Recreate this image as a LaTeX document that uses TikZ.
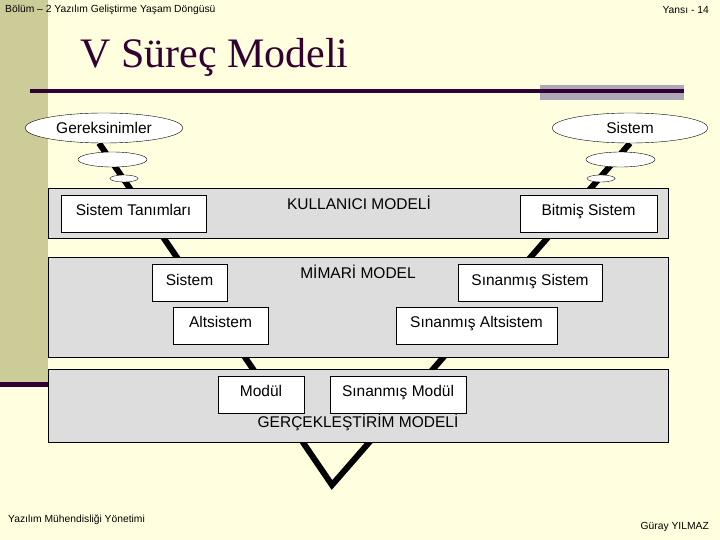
\documentclass[tikz,border=0pt]{standalone}
\usepackage{fontspec}
\setmainfont{Liberation Serif}
\newfontfamily\arialfont{Liberation Sans}
\usepackage{xcolor}
\usepackage{tikz}
\usetikzlibrary{positioning,shapes.geometric,backgrounds}
\definecolor{SlideBg}{RGB}{255,255,224}
\definecolor{SlideStrip}{RGB}{204,204,153}
\definecolor{SlidePurple}{RGB}{51,0,51}
\definecolor{SlideGray}{RGB}{172,168,182}
\definecolor{LayerGray}{RGB}{221,221,221}
\tikzset{
    stagebox/.style={rectangle, draw=black, fill=white, minimum height=37pt, inner sep=0pt, text height=11pt, text depth=7pt, font=\arialfont\fontsize{15.5}{18}\selectfont},
    layerbox/.style={rectangle, draw=black, fill=LayerGray, minimum width=620pt, inner sep=0pt},
    edge of v/.style={draw=black, line width=6pt}
}

\begin{document}
\begin{tikzpicture}[
        x=1pt, y=-1pt,
        % --- CHU ---
        small_text/.style={font=\arialfont\fontsize{10.3}{12}\selectfont, inner sep=0pt},
        layer_text/.style={font=\arialfont\fontsize{15.5}{18}\selectfont, inner sep=0pt},
        % --- BALONCUK ---
        bubble/.style={
            ellipse,
            draw=black,
            fill=white,
            inner sep=0pt,
            font=\arialfont\fontsize{15.5}{18}\selectfont
        }
    ]

        % --- ZEMIN ---
        \begin{pgfonlayer}{background}
            \fill[SlideBg] (0,0) rectangle (720,540);
            \fill[SlideStrip] (0,0) rectangle (48,382);
            \fill[SlidePurple] (0,382) rectangle (48,387);
            \fill[SlideGray] (540,85) rectangle (684,100);
            \fill[SlidePurple] (30,89) rectangle (684,93);
        \end{pgfonlayer}
        \useasboundingbox (0,0) rectangle (720,540);

        % --- BASLIK ---
        \node[small_text, anchor=west] (chapter) at (5,10) {Bölüm – 2 Yazılım Geliştirme Yaşam Döngüsü};
        \node[small_text, anchor=east] (slideno) at (709,10) {Yansı - 14};
        \node[anchor=base west, inner sep=0pt, text=SlidePurple, font=\fontsize{42}{50}\selectfont] (title) at (80,68) {V Süreç Modeli};

        % --- ELIPSLER ---
        \node[bubble, minimum width=158pt, minimum height=30pt] (gerek) at (104,128) {Gereksinimler};
        \node[bubble, minimum width=156pt, minimum height=30pt] (sist) at (630,128) {Sistem};
        \node[bubble, minimum width=69pt, minimum height=15pt] (gl1) at (112.5,159.5) {};
        \node[bubble, minimum width=28pt, minimum height=7pt] (gl2) at (124,178.5) {};
        \node[bubble, minimum width=69pt, minimum height=15pt] (sr1) at (620.5,159.5) {};
        \node[bubble, minimum width=28pt, minimum height=7pt] (sr2) at (601,178.5) {};

        % --- V CIZGISI ---
        \coordinate (vtip) at (332,485);
        \begin{pgfonlayer}{background}
            \draw[edge of v] (gerek.252) -- (vtip) -- (sist.south);
        \end{pgfonlayer}

        % --- KATMANLAR ---
        \node[layerbox, minimum height=50pt] (user) at (358,213) {};
        \node[layerbox, minimum height=100pt] (arch) at (358,307) {};
        \node[layerbox, minimum height=73pt] (impl) at (358,405.5) {};
        \node[layer_text] (userlbl) at (359,203) {KULLANICI MODELİ};
        \node[layer_text] (archlbl) at (358,272) {MİMARİ MODEL};
        \node[layer_text] (impllbl) at (358,422) {GERÇEKLEŞTİRİM MODELİ};

        % --- KUTULAR ---
        \node[stagebox, minimum width=145pt] (systdef) at (133.5,213.5) {Sistem Tanımları};
        \node[stagebox, minimum width=137pt] (done) at (588.5,213.5) {Bitmiş Sistem};
        \node[stagebox, minimum width=75pt] (syst) at (189.5,283) {Sistem};
        \node[stagebox, minimum width=144pt] (systok) at (530,283) {Sınanmış Sistem};
        \node[stagebox, minimum width=95pt] (subs) at (220.5,325.5) {Altsistem};
        \node[stagebox, minimum width=161pt] (subsok) at (476.5,325.5) {Sınanmış Altsistem};
        \node[stagebox, minimum width=86pt] (mod) at (261,394.5) {Modül};
        \node[stagebox, minimum width=136pt] (modok) at (398,394.5) {Sınanmış Modül};

        % --- ALT BILGI ---
        \node[small_text, anchor=west] (course) at (8,520) {Yazılım Mühendisliği Yönetimi};
        \node[small_text, anchor=east] (author) at (709,527) {Güray YILMAZ};

    \end{tikzpicture}
\end{document}
